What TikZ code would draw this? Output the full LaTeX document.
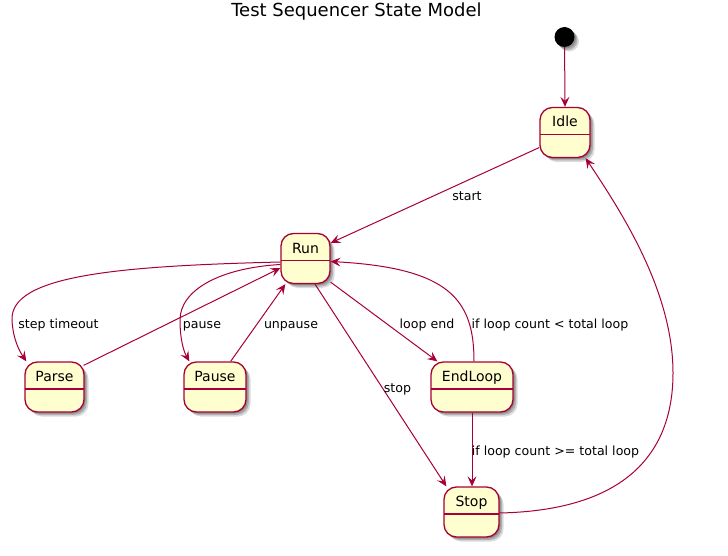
\documentclass[tikz,border=0pt]{standalone}
\usepackage{fontspec}
\setmainfont{DejaVu Sans}
\usetikzlibrary{arrows.meta,shadows,calc}
\definecolor{umlline}{HTML}{A80036}
\definecolor{umlfill}{HTML}{FEFECE}
\begin{document}
\begin{tikzpicture}[x=1pt,y=-1pt,
  softshadow/.style={
    drop shadow={shadow xshift=1.5pt,shadow yshift=-1.5pt,opacity=0.2,fill=black},
    drop shadow={shadow xshift=3pt,shadow yshift=-3pt,opacity=0.2,fill=black},
    drop shadow={shadow xshift=4.5pt,shadow yshift=-4.5pt,opacity=0.14,fill=black}},
  umlstate/.style={draw=umlline, line width=1.3pt, fill=umlfill,
    rounded corners=12.5pt, minimum width=#1, minimum height=50pt,
    inner xsep=0pt, inner ysep=0pt, text height=19.5pt, text depth=30.5pt,
    font=\fontsize{14}{16}\selectfont, softshadow,
    path picture={\draw[umlline,line width=1.3pt]
      ([yshift=-27pt]path picture bounding box.north west) --
      ([yshift=-27pt]path picture bounding box.north east);}},
  conn/.style={draw=umlline, line width=1pt,
    -{Stealth[length=10pt,width=9pt,inset=4pt]}},
  lbl/.style={font=\fontsize{12.6}{15}\selectfont, anchor=base, inner sep=0pt}]
\fill[white] (0,0) rectangle (728,556);
\useasboundingbox (0,0) rectangle (728,556);

\node[font=\fontsize{18}{20}\selectfont, anchor=base, inner sep=0pt] (title) at (356.5,17) {Test Sequencer State Model};

\node[circle, fill=black, minimum size=20pt, inner sep=0pt, softshadow] (init) at (564.5,37) {};
\node[umlstate=50pt] (idle) at (565,132.5) {Idle};
\node[umlstate=49pt] (run) at (305.5,258.5) {Run};
\node[umlstate=59pt] (parse) at (54.5,387) {Parse};
\node[umlstate=62pt] (pause) at (215,387) {Pause};
\node[umlstate=82pt] (endloop) at (472,387) {EndLoop};
\node[umlstate=55pt] (stop) at (471.5,512) {Stop};

\draw[conn] (init) -- (idle.north);
\draw[conn] ([yshift=-15pt]idle.west) -- ([yshift=15.5pt]run.east);
\draw[conn] ([yshift=-3.5pt]run.west) .. controls (120,266) and (10,275) .. (12,320)
  .. controls (13,340) and (20,352) .. ([xshift=2pt]parse.north west);
\draw[conn] ([yshift=-6pt]run.west) .. controls (220,268) and (180,290) .. (180,320)
  .. controls (180,340) and (184,352) .. ([xshift=6pt]pause.north west);
\draw[conn] ([xshift=-1pt,yshift=-4pt]parse.north east) -- ([yshift=-9.5pt]run.west);
\draw[conn] ([xshift=-16pt]pause.north east) -- ([xshift=5pt]run.south west);
\draw[conn] ([yshift=2pt]run.south east) -- ([xshift=7pt]endloop.north west);
\draw[conn] ([xshift=2pt]endloop.north) .. controls (474,300) and (450,268) .. ([yshift=-3pt]run.east);
\draw[conn] ([xshift=9.5pt]run.south) -- ([xshift=3pt]stop.north west);
\draw[conn] (endloop.south) -- (endloop.south |- stop.north);
\draw[conn] ([yshift=-1pt]stop.east) .. controls (640,510) and (673,440) .. (673,373)
  .. controls (673,290) and (620,210) .. ([xshift=-5pt]idle.south east);

\node[lbl] (lstart) at (467,201) {start};
\node[lbl] (lstep) at (58.5,328) {step timeout};
\node[lbl] (lpause) at (202,328) {pause};
\node[lbl] (lunpause) at (291,328) {unpause};
\node[lbl] (lloopend) at (427,328) {loop end};
\node[lbl] (lless) at (550,328) {if loop count < total loop};
\node[lbl] (lstop) at (397.5,392) {stop};
\node[lbl] (lgeq) at (555.5,455) {if loop count >= total loop};
\end{tikzpicture}
\end{document}
